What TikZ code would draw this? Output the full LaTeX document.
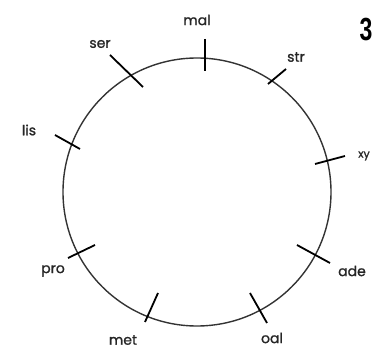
\documentclass[tikz,border=0pt]{standalone}
\usepackage{fontspec}
\setmainfont{Poppins}
\newfontfamily\labfont{Poppins}[FakeBold=1.2]
\newfontfamily\numfont{Liberation Sans}
\begin{document}
\begin{tikzpicture}[x=1pt,y=-1pt,
  ring/.style={draw=black!80,line width=1.4pt},
  tick/.style={draw=black,line width=1.8pt},
  lab/.style={font=\labfont\fontsize{14}{14}\selectfont,inner sep=0pt,text=black!85}]
\useasboundingbox (0,0) rectangle (376,350);
\clip (0,0) rectangle (376,350);
\node[circle,ring,minimum size=268pt,inner sep=0pt] (ring) at (197,192) {};
% ticks
\draw[tick] (205,39) -- (205,71);
\draw[tick] (268,84) -- (286,69);
\draw[tick] (110,55) -- (143,87);
\draw[tick] (55,135) -- (80,149);
\draw[tick] (315,164) -- (345,156);
\draw[tick] (297,245) -- (330,263);
\draw[tick] (250,293) -- (267,323);
\draw[tick] (158,293) -- (145,322);
\draw[tick] (95,245) -- (68,258);
% labels
\node[lab] (mal) at (197,20) {mal};
\node[lab] (ser) at (100,44) {ser};
\node[lab] (str) at (296,57) {str};
\node[lab] (lis) at (29,130) {lis};
\node[lab,font=\labfont\fontsize{11}{11}\selectfont] (xy) at (364,156) {xy};
\node[lab] (ade) at (352,271) {ade};
\node[lab] (oal) at (272,338) {oal};
\node[lab] (met) at (123,340) {met};
\node[lab] (pro) at (53,271) {pro};
\node[inner sep=0pt,font=\numfont\bfseries\fontsize{32}{32}\selectfont,xscale=0.72] (three) at (366,30) {3};
\end{tikzpicture}
\end{document}
